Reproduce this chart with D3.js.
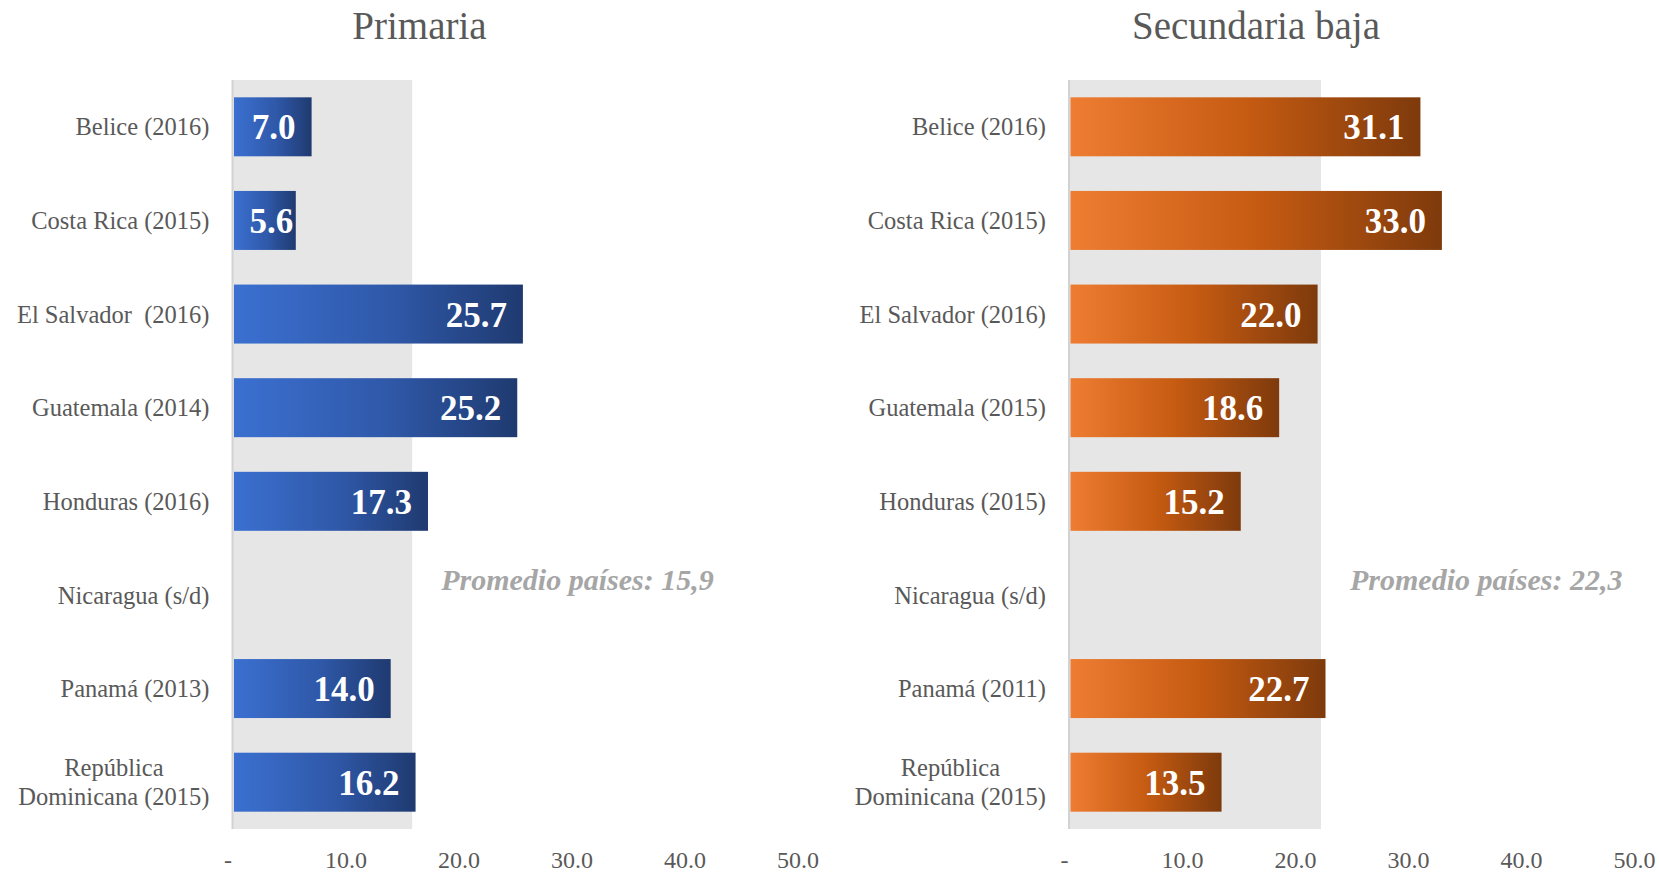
<!DOCTYPE html>
<html>
<head>
<meta charset="utf-8">
<script src="https://cdn.jsdelivr.net/npm/d3@7"></script>
<style>
  body { margin: 0; background: #fff; }
  svg text { font-family: "Liberation Serif", "Times New Roman", serif; }
</style>
</head>
<body>
<svg id="chart" width="1659" height="872"></svg>
<script>
// data
const primariaCategories = ["Belice (2016)", "Costa Rica (2015)", "El Salvador  (2016)", "Guatemala (2014)",
  "Honduras (2016)", "Nicaragua (s/d)", "Panamá (2013)", "República|Dominicana (2015)"]
const primariaValues = [7.0, 5.6, 25.7, 25.2, 17.3, null, 14.0, 16.2]
const primariaAvg = 15.9

const secundariaCategories = ["Belice (2016)", "Costa Rica (2015)", "El Salvador (2016)", "Guatemala (2015)",
  "Honduras (2015)", "Nicaragua (s/d)", "Panamá (2011)", "República|Dominicana (2015)"]
const secundariaValues = [31.1, 33.0, 22.0, 18.6, 15.2, null, 22.7, 13.5]
const secundariaAvg = 22.3

const xTicks = [0, 10, 20, 30, 40, 50]
const avgLabels = ["Promedio países: 15,9", "Promedio países: 22,3"]

const svg = d3.select("#chart")
const defs = svg.append("defs")

function gradient(id, stops) {
  const g = defs.append("linearGradient").attr("id", id)
    .attr("x1", "0%").attr("x2", "100%").attr("y1", "0%").attr("y2", "0%")
  stops.forEach(s => g.append("stop").attr("offset", s[0]).attr("stop-color", s[1]))
}
gradient("blueGrad", [["0%", "#3b70d1"], ["55%", "#2f58a8"], ["100%", "#1f3a70"]])
gradient("orangeGrad", [["0%", "#ee7d32"], ["50%", "#c65b12"], ["100%", "#7e3a0c"]])

function drawPanel(opts) {
  const { title, categories, values, avg, avgLabel, fill, x0, x1 } = opts
  const top = 80, bottom = 829

  const x = d3.scaleLinear().domain([0, 50]).range([x0, x1])
  const y = d3.scaleBand().domain(categories).range([top, bottom])
    .paddingInner(0.37).paddingOuter(0.185)

  const g = svg.append("g")

  // grey band up to the average
  g.append("rect")
    .attr("x", x(0)).attr("y", top)
    .attr("width", x(avg) - x(0)).attr("height", bottom - top)
    .attr("fill", "#e6e6e6")

  // axis line
  g.append("line")
    .attr("x1", x(0)).attr("x2", x(0)).attr("y1", top).attr("y2", bottom)
    .attr("stroke", "#d2d2d2").attr("stroke-width", 2)

  // title
  g.append("text")
    .attr("x", x(0) + 187).attr("y", 39)
    .attr("text-anchor", "middle")
    .attr("fill", "#595959")
    .style("font-size", "39px")
    .text(title)

  // bottom axis
  const axis = g.append("g")
    .attr("transform", "translate(0," + (bottom + 19) + ")")
    .call(d3.axisBottom(x).tickValues(xTicks).tickSize(0)
      .tickFormat(d => d === 0 ? "-" : d3.format(".1f")(d)))
  axis.select(".domain").remove()
  axis.selectAll("text")
    .attr("fill", "#595959")
    .style("font-size", "24px")
    .style("font-family", "'Liberation Serif', serif")
    .attr("dx", d => d === 0 ? -5 : 0)

  // category labels
  const labels = g.selectAll(".cat")
    .data(categories)
    .enter()
    .append("text")
    .attr("class", "cat")
    .attr("fill", "#595959")
    .style("font-size", "24.5px")
    .style("white-space", "pre")
    .attr("text-anchor", "end")
    .attr("transform", d => "translate(" + (x(0) - 23) + "," + (y(d) + y.bandwidth() / 2) + ")")

  labels.each(function (d) {
    const lines = d.split("|")
    const t = d3.select(this)
    if (lines.length === 1) {
      t.append("tspan").attr("x", 0).attr("dy", "0.35em").text(d)
    } else {
      t.attr("text-anchor", "middle")
      lines.forEach((l, i) => {
        t.append("tspan").attr("x", 0)
          .attr("y", (i - (lines.length - 1) / 2) * 29)
          .attr("dy", "0.35em").text(l)
      })
      // right-align the centered block
      const w = this.getBBox().width
      t.attr("transform", "translate(" + (x(0) - 23 - w / 2) + "," + (y(d) + y.bandwidth() / 2) + ")")
    }
  })

  const rows = categories.map((c, i) => ({ cat: c, value: values[i] })).filter(d => d.value != null)

  // bars
  g.selectAll(".bar")
    .data(rows)
    .enter()
    .append("rect")
    .attr("class", "bar")
    .attr("x", x(0) + 1.5)
    .attr("y", d => y(d.cat))
    .attr("width", d => x(d.value) - x(0) - 1.5)
    .attr("height", y.bandwidth())
    .attr("fill", fill)

  // value labels, pushed right when the bar is too short
  g.selectAll(".val")
    .data(rows)
    .enter()
    .append("text")
    .attr("class", "val")
    .attr("y", d => y(d.cat) + y.bandwidth() / 2)
    .attr("dy", "0.36em")
    .attr("text-anchor", "end")
    .attr("fill", "#fff")
    .style("font-size", "35px")
    .style("font-weight", "bold")
    .text(d => d3.format(".1f")(d.value))
    .attr("x", function (d) {
      const w = this.getComputedTextLength()
      return Math.max(x(d.value) - 16, x(0) + 17 + w)
    })

  // average note
  const nic = categories[5]
  g.append("text")
    .attr("x", x(avg) + 29)
    .attr("y", y(nic) + y.bandwidth() / 2 - 15)
    .attr("dy", "0.35em")
    .attr("fill", "#a6a6a6")
    .style("font-size", "30px")
    .style("font-weight", "bold")
    .style("font-style", "italic")
    .text(avgLabel)
}

drawPanel({
  title: "Primaria", categories: primariaCategories, values: primariaValues,
  avg: primariaAvg, avgLabel: avgLabels[0], fill: "url(#blueGrad)", x0: 232.5, x1: 797.5
})
drawPanel({
  title: "Secundaria baja", categories: secundariaCategories, values: secundariaValues,
  avg: secundariaAvg, avgLabel: avgLabels[1], fill: "url(#orangeGrad)", x0: 1069, x1: 1634
})
</script>
</body>
</html>
